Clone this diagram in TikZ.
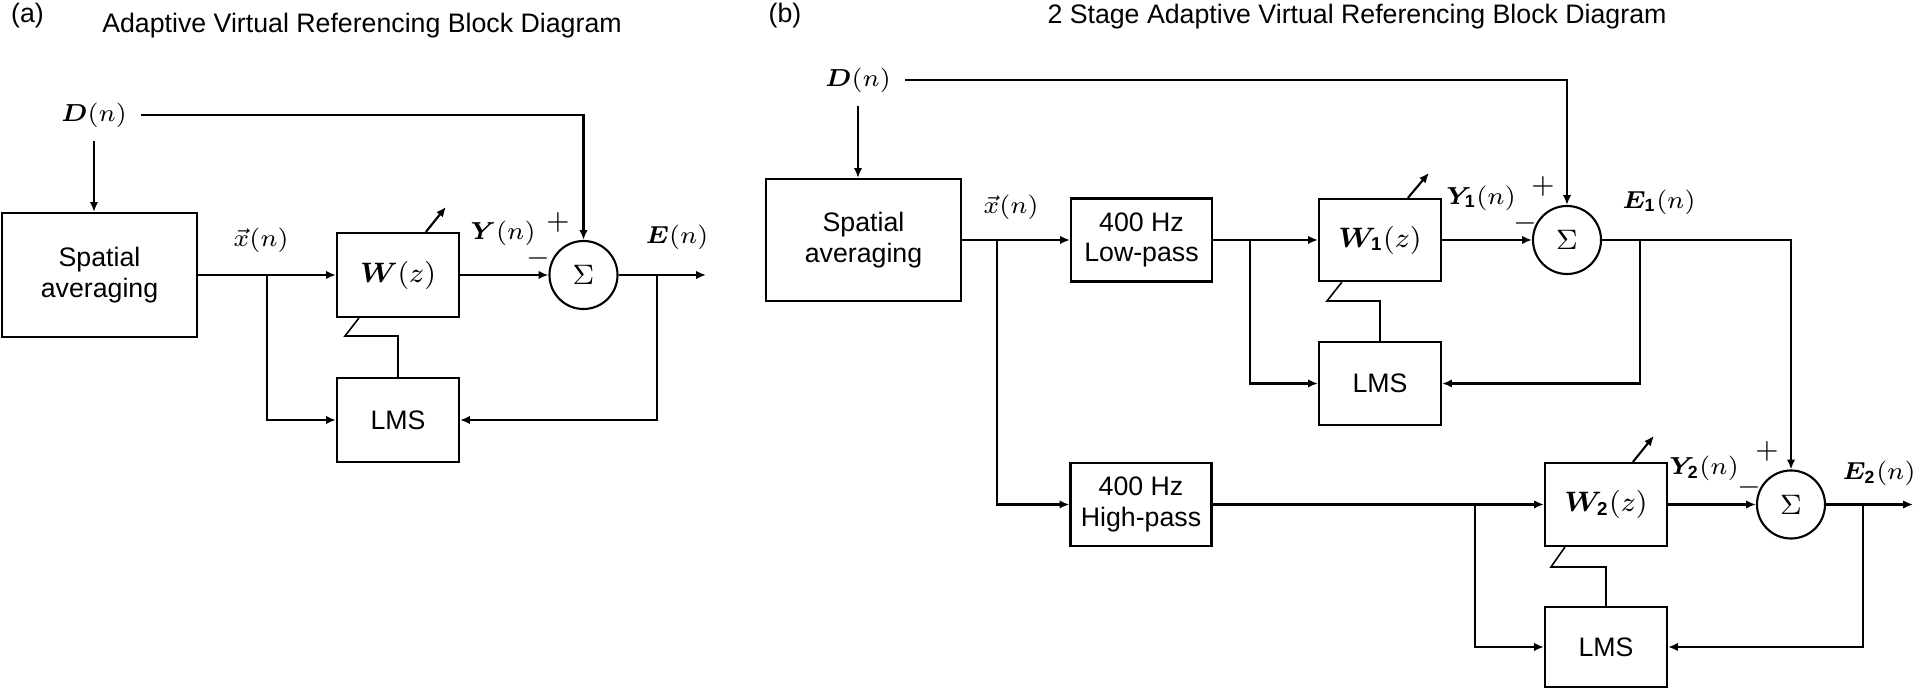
\documentclass[tikz,border=0pt]{standalone}
\usepackage{fontspec}
\setmainfont{Liberation Sans}
\usepackage{amsmath,bm}
\usetikzlibrary{arrows.meta,calc}
\newcommand\fs{\fontsize{7.6}{8.6}\selectfont}
\newcommand\ms{\fontsize{7.2}{8.2}\selectfont}
\begin{document}
\begin{tikzpicture}[x=0.01cm,y=-0.01cm,
  every node/.style={font=\fs},
  blk/.style={draw,line width=0.6pt,inner sep=0pt,align=center},
  sumc/.style={draw,circle,line width=0.6pt,minimum size=0.68cm,inner sep=0pt},
  lbl/.style={inner sep=0pt},
  mlbl/.style={inner sep=0pt,font=\ms},
  sig/.style={inner sep=0pt,outer sep=4pt,font=\ms},
  ln/.style={line width=0.6pt},
  arr/.style={line width=0.6pt,-{Latex[length=2.8pt,width=2.4pt]}},
  lnk/.style={line width=0.45pt}]
\useasboundingbox (0,0) rectangle (1920,689);

% ---------------- Panel (a) ----------------
\node[lbl] (taga) at (27.5,16) {(a)};
\node[lbl] (titlea) at (362,26) {Adaptive Virtual Referencing Block Diagram};

\node[blk,minimum width=1.95cm,minimum height=1.24cm] (spa) at (99.5,275) {Spatial\\averaging};
\node[blk,minimum width=1.22cm,minimum height=0.84cm] (wa) at (398,275) {$\bm{W}(z)$};
\node[blk,minimum width=1.22cm,minimum height=0.84cm] (lmsa) at (398,420) {LMS};
\node[sumc] (suma) at (583.5,275) {$\Sigma$};

\node[sig] (Da) at (94,115) {$\bm{D}(n)$};
\node[mlbl] (xa) at (261,240) {$\vec{x}(n)$};
\node[mlbl] (Ya) at (503,233) {$\bm{Y}(n)$};
\node[lbl] (pa) at (558,222) {$+$};
\node[lbl] (ma) at (538,258) {$-$};
\node[mlbl] (Ea) at (677,237) {$\bm{E}(n)$};

\coordinate (ja) at (267,275);
\coordinate (ta) at (657,275);
\coordinate (outa) at (706,275);

\draw[arr] (Da.south) -- (Da.south |- spa.north);
\draw[arr] (Da.east) -| (suma.north);
\draw[arr] (spa.east) -- (wa.west);
\draw[arr] (ja) |- (lmsa.west);
\draw[arr] (wa.east) -- (suma.west);
\draw[arr] (suma.east) -- (outa);
\draw[arr] (ta) |- (lmsa.east);
\draw[lnk] (lmsa.north) -- (lmsa.north |- 0,336) -- (345,336) -- ($(wa.south west)+(23,0)$);
\draw[arr] ($(wa.north west)+(90,0)$) -- ++(20,-25);

% ---------------- Panel (b) ----------------
\node[lbl] (tagb) at (785,16) {(b)};
\node[lbl] (titleb) at (1357,17) {2 Stage Adaptive Virtual Referencing Block Diagram};

\node[blk,minimum width=1.95cm,minimum height=1.22cm] (spb) at (863.5,240) {Spatial\\averaging};
\node[blk,minimum width=1.41cm,minimum height=0.83cm] (lp) at (1141.5,240) {400 Hz\\Low-pass};
\node[blk,minimum width=1.22cm,minimum height=0.82cm] (w1) at (1380,240) {$\bm{W}_{\mathbf{1}}(z)$};
\node[sumc] (sum1) at (1567,240) {$\Sigma$};
\node[blk,minimum width=1.22cm,minimum height=0.83cm] (lms1) at (1380,383.5) {LMS};

\node[blk,minimum width=1.41cm,minimum height=0.83cm] (hp) at (1141,504.5) {400 Hz\\High-pass};
\node[blk,minimum width=1.22cm,minimum height=0.83cm] (w2) at (1606,504.5) {$\bm{W}_{\mathbf{2}}(z)$};
\node[sumc] (sum2) at (1791,504.5) {$\Sigma$};
\node[blk,minimum width=1.22cm,minimum height=0.80cm] (lms2) at (1606,647) {LMS};

\node[sig] (Db) at (858,80) {$\bm{D}(n)$};
\node[mlbl] (xb) at (1011,207) {$\vec{x}(n)$};
\node[mlbl] (Y1) at (1481,198) {$\bm{Y}_{\mathbf{1}}(n)$};
\node[lbl] (p1) at (1543,186) {$+$};
\node[lbl] (m1) at (1525,223) {$-$};
\node[mlbl] (E1) at (1659,202) {$\bm{E}_{\mathbf{1}}(n)$};
\node[mlbl] (Y2) at (1704,468) {$\bm{Y}_{\mathbf{2}}(n)$};
\node[lbl] (p2) at (1767,451) {$+$};
\node[lbl] (m2) at (1749,487) {$-$};
\node[mlbl] (E2) at (1879,473) {$\bm{E}_{\mathbf{2}}(n)$};

\coordinate (jb1) at (997,240);
\coordinate (jb2) at (1250,240);
\coordinate (t1) at (1640,240);
\coordinate (jb3) at (1475,504.5);
\coordinate (t2) at (1863,504.5);
\coordinate (outb) at (1913,504.5);

\draw[arr] (Db.south) -- (Db.south |- spb.north);
\draw[arr] (Db.east) -| (sum1.north);
\draw[arr] (spb.east) -- (lp.west);
\draw[arr] (jb1) |- (hp.west);
\draw[arr] (lp.east) -- (w1.west);
\draw[arr] (jb2) |- (lms1.west);
\draw[arr] (w1.east) -- (sum1.west);
\draw[arr] (sum1.east) -| (sum2.north);
\draw[arr] (t1) |- (lms1.east);
\draw[lnk] (lms1.north) -- (lms1.north |- 0,301) -- (1327,301) -- ($(w1.south west)+(24,0)$);
\draw[arr] ($(w1.north west)+(90,0)$) -- ++(21,-25);

\draw[arr] (hp.east) -- (w2.west);
\draw[arr] (jb3) |- (lms2.west);
\draw[arr] (w2.east) -- (sum2.west);
\draw[arr] (sum2.east) -- (outb);
\draw[arr] (t2) |- (lms2.east);
\draw[lnk] (lms2.north) -- (lms2.north |- 0,567) -- (1551,567) -- ($(w2.south west)+(21,0)$);
\draw[arr] ($(w2.north west)+(89,0)$) -- ++(21,-26);
\end{tikzpicture}
\end{document}
